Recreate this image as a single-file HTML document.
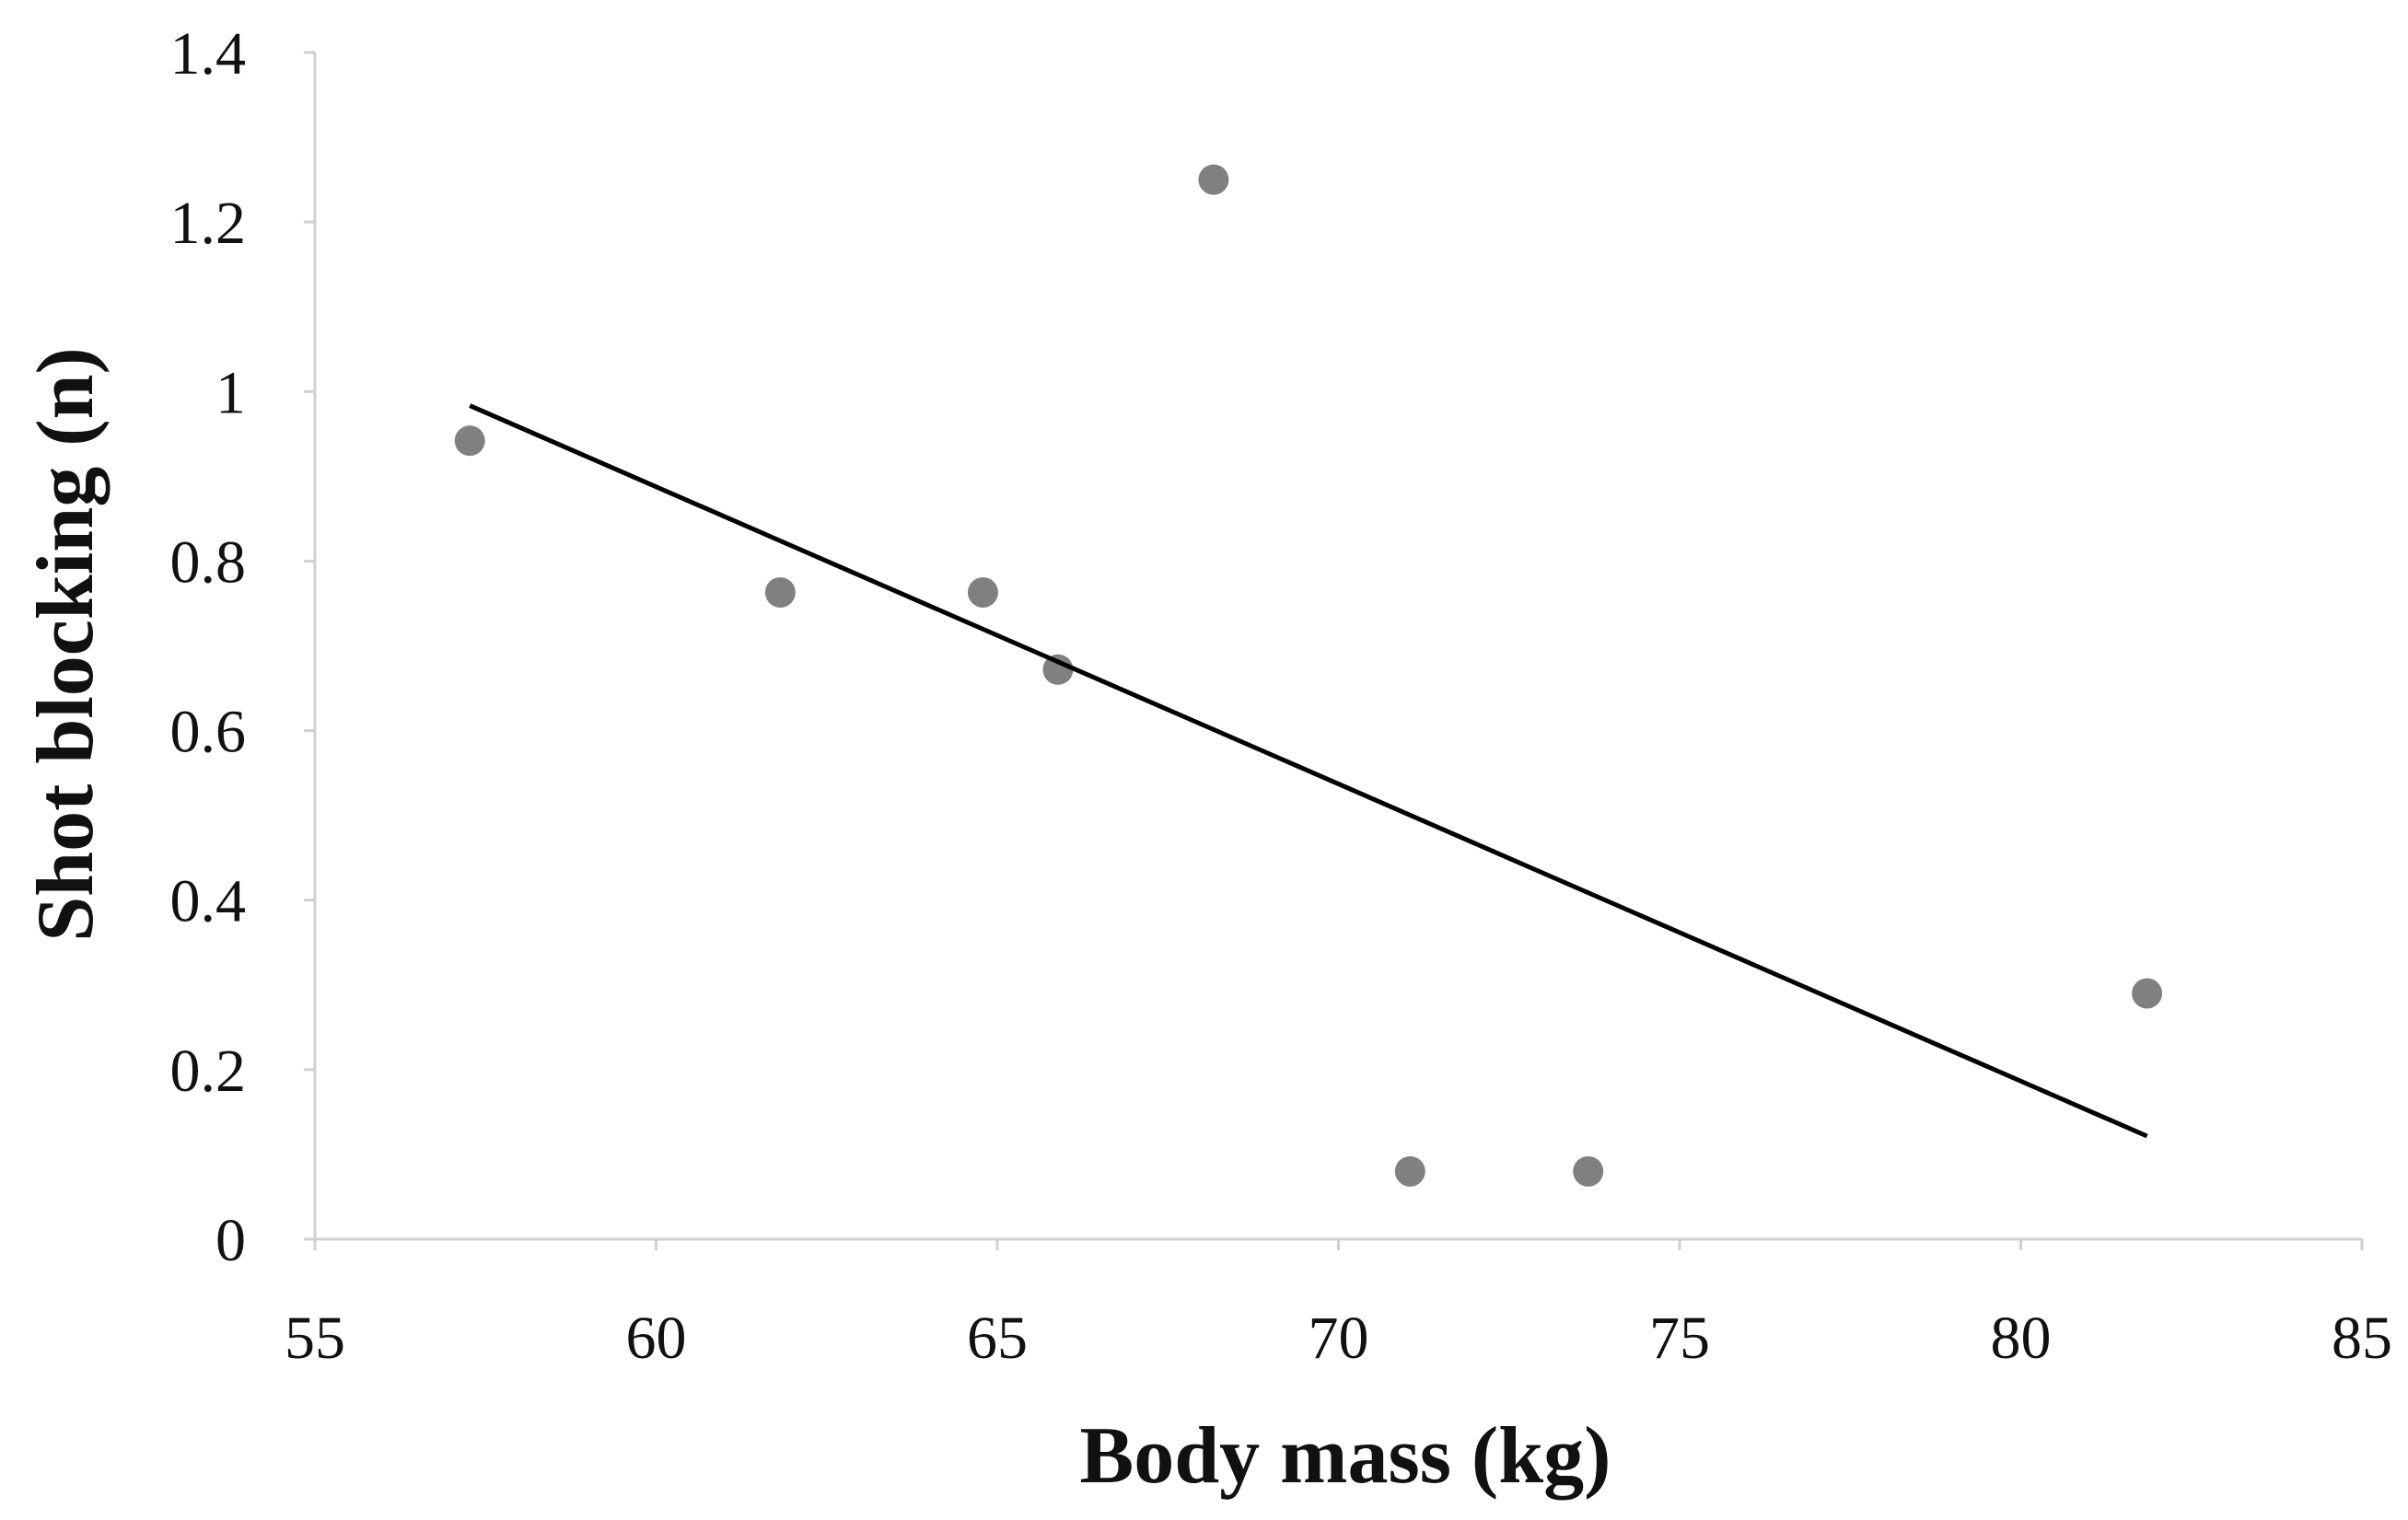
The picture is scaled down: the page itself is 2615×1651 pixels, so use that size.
<!DOCTYPE html>
<html><head><meta charset="utf-8"><style>
html,body{margin:0;padding:0;background:#fff;}
svg{display:block;}
text{font-family:"Liberation Serif",serif;fill:#111;}
</style></head><body>
<svg id="chart" width="2615" height="1651" viewBox="0 0 2615 1651" xmlns="http://www.w3.org/2000/svg">
<g id="axes"></g>
<g id="marks"></g>
<text x="1461" y="1610" text-anchor="middle" font-size="88" font-weight="bold">Body mass (kg)</text>
<text transform="translate(100,700) rotate(-90)" text-anchor="middle" font-size="88" font-weight="bold">Shot blocking (n)</text>
</svg>
<script>
const bodyMass = [57.27, 61.82, 64.79, 65.89, 68.17, 71.05, 73.66, 81.85];
const shotBlocking = [0.942, 0.763, 0.763, 0.672, 1.25, 0.08, 0.08, 0.29];
const xTicks = [55, 60, 65, 70, 75, 80, 85];
const yTicks = [0, 0.2, 0.4, 0.6, 0.8, 1, 1.2, 1.4];
const xTickLabels = ["55","60","65","70","75","80","85"];
const yTickLabels = ["0","0.2","0.4","0.6","0.8","1","1.2","1.4"];

const X0=342, X1=2565, Y0=1346, Y1=57;
const xs = v => X0 + (v-55)/(85-55)*(X1-X0);
const ys = v => Y0 - (v-0)/(1.4-0)*(Y0-Y1);
const NS="http://www.w3.org/2000/svg";
const axes=document.getElementById('axes'), marks=document.getElementById('marks');
function mk(tag, attrs, parent){const e=document.createElementNS(NS,tag);for(const k in attrs)e.setAttribute(k,attrs[k]);parent.appendChild(e);return e;}

let l=mk('line',{x1:X0,y1:Y1,x2:X0,y2:Y0+12,stroke:'#d0d0d0','stroke-width':3},axes);


l=mk('line',{x1:X0-12,y1:Y0,x2:X1,y2:Y0,stroke:'#d0d0d0','stroke-width':3},axes);



xTicks.forEach((v,i)=>{
  const t=mk('line',{x1:xs(v),y1:Y0,x2:xs(v),y2:Y0+12,stroke:'#d0d0d0','stroke-width':3},axes);
  
  
  const tx=mk('text',{x:xs(v),y:1475,'text-anchor':'middle','font-size':66},axes);
  tx.textContent=xTickLabels[i];
  
  
});
yTicks.forEach((v,i)=>{
  const t=mk('line',{x1:X0-12,y1:ys(v),x2:X0,y2:ys(v),stroke:'#d0d0d0','stroke-width':3},axes);
  
  
  const tx=mk('text',{x:267,y:ys(v)+23,'text-anchor':'end','font-size':66},axes);
  tx.textContent=yTickLabels[i];
  
  
});

bodyMass.forEach((v,i)=>{
  const c=mk('circle',{cx:xs(v),cy:ys(shotBlocking[i]),r:16.5,fill:'#808080'},marks);
  
  
});

const n=bodyMass.length;
const mx=bodyMass.reduce((a,b)=>a+b,0)/n, my=shotBlocking.reduce((a,b)=>a+b,0)/n;
let sxy=0,sxx=0;bodyMass.forEach((v,i)=>{sxy+=(v-mx)*(shotBlocking[i]-my);sxx+=(v-mx)*(v-mx);});
const slope=sxy/sxx, icpt=my-slope*mx;
const xmin=Math.min(...bodyMass), xmax=Math.max(...bodyMass);
const tl=mk('line',{x1:xs(xmin),y1:ys(icpt+slope*xmin),x2:xs(xmax),y2:ys(icpt+slope*xmax),stroke:'#000','stroke-width':5},marks);


</script>
</body></html>
